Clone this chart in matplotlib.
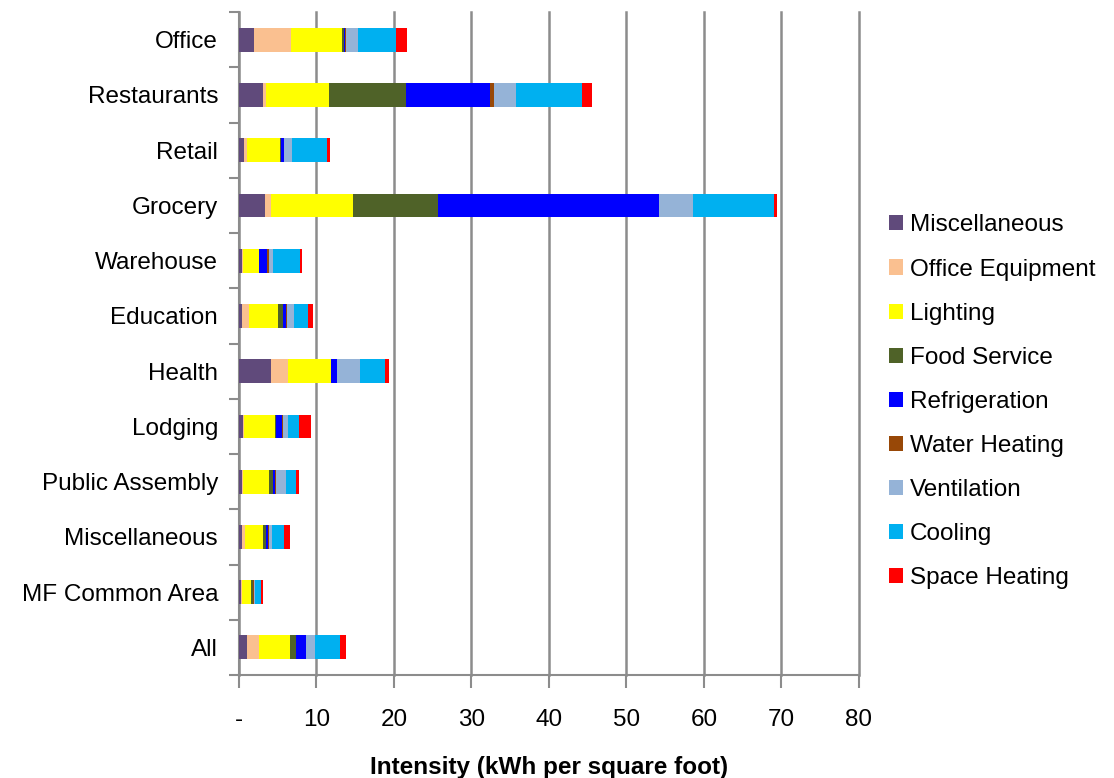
import numpy as np
import matplotlib.pyplot as plt

plt.rcParams['font.family'] = ['Liberation Sans', 'DejaVu Sans']

# categories, top to bottom
sectors = ["Office", "Restaurants", "Retail", "Grocery", "Warehouse", "Education",
           "Health", "Lodging", "Public Assembly", "Miscellaneous",
           "MF Common Area", "All"]

end_uses = ["Miscellaneous", "Office Equipment", "Lighting", "Food Service",
            "Refrigeration", "Water Heating", "Ventilation", "Cooling", "Space Heating"]

# kWh per sq ft, one list per end use, in sector order
misc      = [2.0, 3.05, 0.6, 3.37, 0.35, 0.35, 4.1, 0.5, 0.35, 0.35, 0.3, 1.05]
office_eq = [4.7, 0.47, 0.4, 0.8, 0.15, 0.95, 2.25, 0.1, 0.15, 0.45, 0.1, 1.5]
lighting  = [6.65, 8.15, 4.3, 10.6, 2.1, 3.8, 5.5, 4.0, 3.35, 2.25, 1.2, 4.05]
food      = [0.2, 9.87, 0.15, 10.9, 0.0, 0.55, 0.0, 0.2, 0.5, 0.5, 0.2, 0.75]
refrig    = [0.1, 10.85, 0.3, 28.5, 1.05, 0.45, 0.75, 0.75, 0.35, 0.25, 0.05, 1.25]
water     = [0.2, 0.5, 0.1, 0.05, 0.2, 0.1, 0.1, 0.15, 0.1, 0.1, 0.05, 0.1]
vent      = [1.5, 2.8, 0.95, 4.4, 0.5, 0.9, 2.95, 0.6, 1.25, 0.4, 0.15, 1.15]
cooling   = [4.9, 8.57, 4.5, 10.4, 3.5, 1.75, 3.2, 1.5, 1.25, 1.5, 0.85, 3.25]
heating   = [1.5, 1.3, 0.45, 0.45, 0.3, 0.75, 0.55, 1.5, 0.5, 0.75, 0.2, 0.75]

series = [misc, office_eq, lighting, food, refrig, water, vent, cooling, heating]
colors = ["#604A7B", "#FAC090", "#FFFF00", "#4F6228", "#0000FF",
          "#984807", "#95B3D7", "#00B0F0", "#FF0000"]

x_ticks = [0, 10, 20, 30, 40, 50, 60, 70, 80]
x_labels = ["-"] + [str(t) for t in x_ticks[1:]]

fs = 17.5
fig = plt.figure(figsize=(11.14, 7.78), dpi=100)
ax = fig.add_axes([0.2145, 0.1324, 0.5565, 0.852])

y = np.arange(len(sectors))[::-1]
left = np.zeros(len(sectors))
for vals, col, name in zip(series, colors, end_uses):
    ax.barh(y, vals, left=left, height=0.43, color=col, label=name, zorder=3)
    left += np.array(vals)

gray = "#8c8c8c"
ax.set_xlim(0, 80)
ax.set_ylim(-0.5, 11.5)
ax.set_xticks(x_ticks)
ax.set_xticklabels(x_labels, fontsize=fs)
ax.set_yticks(y)
ax.set_yticklabels(sectors, fontsize=fs)
ax.set_yticks(np.arange(-0.5, 12, 1), minor=True)
ax.tick_params(axis='y', which='major', length=0, pad=15)
ax.tick_params(axis='y', which='minor', length=7, width=1.5, color=gray)
ax.tick_params(axis='x', length=9, width=1.5, color=gray, pad=15.5)
ax.grid(axis='x', color=gray, lw=1.8, zorder=0, clip_on=False)
for s in ["top", "right"]:
    ax.spines[s].set_visible(False)
for s in ["left", "bottom"]:
    ax.spines[s].set_color(gray)
    ax.spines[s].set_linewidth(1.5)

ax.set_xlabel("Intensity (kWh per square foot)", fontsize=fs, fontweight='bold', labelpad=18)

fig.legend(loc='upper left', bbox_to_anchor=(0.787, 0.74), frameon=False, fontsize=fs,
           handlelength=0.58, handleheight=0.58, handletextpad=0.28, labelspacing=0.91,
           borderpad=0)

fig.savefig("out.png", dpi=100)
